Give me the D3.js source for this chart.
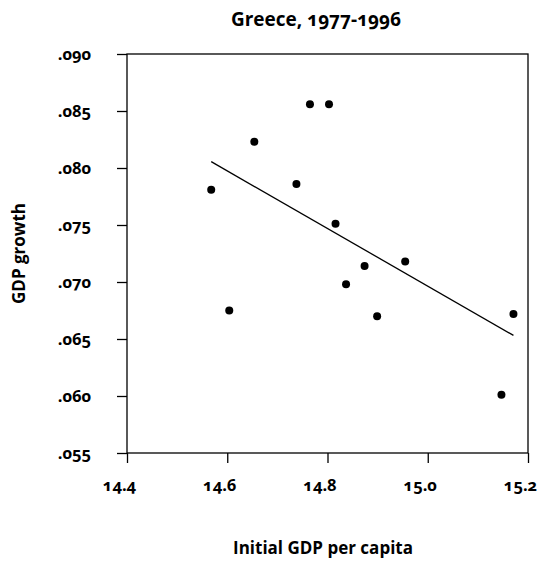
<!DOCTYPE html>
<html>
<head>
<meta charset="utf-8">
<script src="https://cdn.jsdelivr.net/npm/d3@7"></script>
<style>
  body { margin: 0; background: #fff; }
</style>
</head>
<body>
<div id="chart"></div>
<script>
  // initial GDP per capita (log) and GDP growth, Greece 1977-1996
  let initialGdp = [14.568, 14.604, 14.654, 14.765, 14.803, 14.738, 14.816, 14.837, 14.874, 14.899, 14.955, 15.147, 15.171];
  let gdpGrowth = [0.0781, 0.0675, 0.0823, 0.0856, 0.0856, 0.0786, 0.0751, 0.0698, 0.0714, 0.0670, 0.0718, 0.0601, 0.0672];
  let xTicks = [14.4, 14.6, 14.8, 15.0, 15.2];
  let yTicks = [0.055, 0.060, 0.065, 0.070, 0.075, 0.080, 0.085, 0.090];

  let width = 539;
  let height = 568;
  let plotLeft = 127, plotRight = 528, plotTop = 54, plotBottom = 453;
  let fontStack = '"Open Sans", "Noto Sans", sans-serif';

  // bold text with old-style figures, like the original
  function styleText(sel, size) {
    sel.attr('font-size', size)
      .style('font-family', fontStack)
      .style('font-weight', '700')
      .style('font-variant-numeric', 'oldstyle-nums')
      .attr('fill', '#000');
  }

  let svg = d3.select('#chart').append('svg')
    .attr('width', width)
    .attr('height', height);

  let x = d3.scaleLinear().domain([14.4, 15.2]).range([plotLeft, plotRight]);
  let y = d3.scaleLinear().domain([0.055, 0.090]).range([plotBottom, plotTop]);

  // frame
  svg.append('rect')
    .attr('x', plotLeft).attr('y', plotTop)
    .attr('width', plotRight - plotLeft).attr('height', plotBottom - plotTop)
    .attr('fill', 'none').attr('stroke', '#000').attr('stroke-width', 1.3);

  // axes
  let xAxis = svg.append('g')
    .attr('transform', `translate(0,${plotBottom})`)
    .call(d3.axisBottom(x).tickValues(xTicks).tickSize(10).tickPadding(16).tickFormat(d3.format('.1f')));
  let yAxis = svg.append('g')
    .attr('transform', `translate(${plotLeft},0)`)
    .call(d3.axisLeft(y).tickValues(yTicks).tickSize(10).tickPadding(26)
      .tickFormat((d) => d3.format('.3f')(d).replace(/^0/, '')));

  [xAxis, yAxis].forEach((g) => {
    g.attr('font-family', null).attr('font-size', null);
    g.select('.domain').remove();
    g.selectAll('line').attr('stroke', '#000').attr('stroke-width', 1.3);
    styleText(g.selectAll('text'), 16.5);
  });
  // the labels in the original sit a little left of their ticks
  xAxis.selectAll('text').attr('dx', -8);

  // least squares fit line
  let mx = d3.mean(initialGdp), my = d3.mean(gdpGrowth);
  let sxy = d3.sum(initialGdp, (v, i) => (v - mx) * (gdpGrowth[i] - my));
  let sxx = d3.sum(initialGdp, (v) => (v - mx) * (v - mx));
  let slope = sxy / sxx;
  let [x0, x1] = d3.extent(initialGdp);
  svg.append('path')
    .datum([x0, x1])
    .attr('d', d3.line().x((d) => x(d)).y((d) => y(my + slope * (d - mx))))
    .attr('stroke', '#000').attr('stroke-width', 1.3).attr('fill', 'none');

  // points
  svg.selectAll('.pt')
    .data(initialGdp)
    .enter().append('circle')
    .attr('class', 'pt')
    .attr('cx', (d) => x(d))
    .attr('cy', (d, i) => y(gdpGrowth[i]))
    .attr('r', 4)
    .attr('fill', '#000');

  // titles
  svg.append('text')
    .attr('x', 316).attr('y', 26)
    .attr('text-anchor', 'middle')
    .call(styleText, 19)
    .text('Greece, 1977-1996');

  svg.append('text')
    .attr('x', 323).attr('y', 554)
    .attr('text-anchor', 'middle')
    .call(styleText, 17)
    .text('Initial GDP per capita');

  svg.append('text')
    .attr('transform', `translate(25,${(plotTop + plotBottom) / 2}) rotate(-90)`)
    .attr('text-anchor', 'middle')
    .call(styleText, 17)
    .text('GDP growth');
</script>
</body>
</html>
